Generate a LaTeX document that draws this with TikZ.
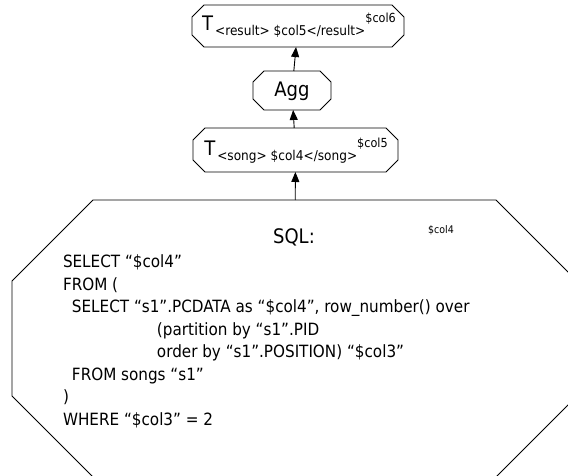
\documentclass[tikz,border=0pt]{standalone}
\usepackage{fontspec}
\setmainfont{DejaVu Sans Condensed}
\usetikzlibrary{arrows.meta}
\newcommand\myoct[2]{\draw[octline] ([xshift=#2]#1.north west) -- ([xshift=-#2]#1.north east) -- ([yshift=-#2]#1.north east) -- ([yshift=#2]#1.south east) -- ([xshift=-#2]#1.south east) -- ([xshift=#2]#1.south west) -- ([yshift=#2]#1.south west) -- ([yshift=-#2]#1.north west) -- cycle;}
\newcommand\fs[1]{\fontsize{#1}{#1}\selectfont}
\begin{document}
\begin{tikzpicture}[x=1pt,y=-1pt,
  box/.style={draw=none,inner sep=0pt,outer sep=0pt,rectangle},
  octline/.style={draw=black,line width=0.9pt,line join=miter},
  arr/.style={draw=black,line width=0.9pt,-{Triangle[length=10pt,width=8pt]}},
  lbl/.style={inner sep=0pt,outer sep=0pt}]
\path[use as bounding box] (0,0) rectangle (568,476);
\clip (0,0) rectangle (568,476);
% boxes
\node[box,minimum width=212pt,minimum height=42pt] (top) at (298,26) {};
\node[box,minimum width=78pt,minimum height=39pt] (agg) at (292,90.5) {};
\node[box,minimum width=205pt,minimum height=44pt] (song) at (295.5,150) {};
\node[box,minimum width=565pt,minimum height=277pt] (sql) at (294.5,338.5) {};
\myoct{top}{12pt}
\myoct{agg}{11pt}
\myoct{song}{12pt}
\myoct{sql}{81pt}
% labels
\node[lbl,anchor=base] (toplbl) at (299,31) {\fs{20}T\kern2pt\raisebox{-5pt}{\fs{13.5}<result> \$col5</result>}\raisebox{8pt}{\fs{12.5}\$col6}};
\node[lbl] (agglbl) at (292,91) {\fs{20}Agg};
\node[lbl,anchor=base] (songlbl) at (296,156) {\fs{20}T\kern2pt\raisebox{-5pt}{\fs{13.5}<song> \$col4</song>}\raisebox{8pt}{\fs{12.5}\$col5}};
\node[lbl] (sqltitle) at (294,237) {\fs{20}SQL:};
\node[lbl] (sqlcol) at (441,230) {\fs{10.5}\$col4};
\node[lbl,anchor=north west,align=left,font=\fontsize{16.9}{22.5}\selectfont] (sqlbody) at (63,255) {%
SELECT “\$col4”\\
FROM (\\
\hspace*{9pt}SELECT “s1”.PCDATA as “\$col4”, row\_number() over\\
\hspace*{94pt}(partition by “s1”.PID\\
\hspace*{94pt}order by “s1”.POSITION) “\$col3”\\
\hspace*{9pt}FROM songs “s1”\\
)\\
WHERE “\$col3” = 2};
% arrows
\draw[arr] (sql) -- (song);
\draw[arr] (song) -- (agg);
\draw[arr] (agg) -- (top);
\end{tikzpicture}
\end{document}
